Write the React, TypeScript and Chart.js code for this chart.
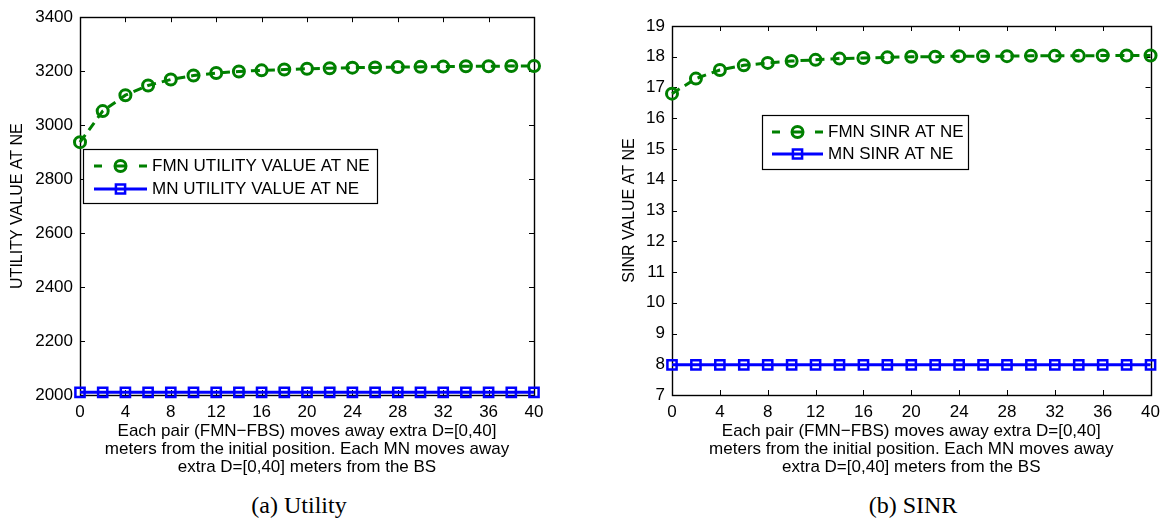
import React, { useEffect, useRef } from "react";
import { Chart, registerables } from "chart.js";

Chart.register(...registerables);

// ---------- DATA ----------
const distances = [0, 2, 4, 6, 8, 10, 12, 14, 16, 18, 20, 22, 24, 26, 28, 30, 32, 34, 36, 38, 40];

const fmnUtility = [2937, 3052, 3111, 3147, 3169, 3184, 3193, 3199, 3203, 3206, 3209, 3211, 3213, 3214, 3215, 3216, 3217, 3218, 3218, 3219, 3219];
const mnUtility = [2010, 2010, 2010, 2010, 2010, 2010, 2010, 2010, 2010, 2010, 2010, 2010, 2010, 2010, 2010, 2010, 2010, 2010, 2010, 2010, 2010];

const fmnSinr = [16.8, 17.29, 17.57, 17.72, 17.8, 17.86, 17.9, 17.94, 17.96, 17.98, 18.0, 18.0, 18.02, 18.02, 18.02, 18.03, 18.03, 18.03, 18.04, 18.04, 18.04];
const mnSinr = [7.98, 7.98, 7.98, 7.98, 7.98, 7.98, 7.98, 7.98, 7.98, 7.98, 7.98, 7.98, 7.98, 7.98, 7.98, 7.98, 7.98, 7.98, 7.98, 7.98, 7.98];

const utilityLabels = ["FMN UTILITY VALUE AT NE", "MN UTILITY VALUE AT NE"];
const sinrLabels = ["FMN SINR AT NE", "MN SINR AT NE"];

const xTitleLines = [
  "Each pair (FMN\u2212FBS) moves away extra D=[0,40]",
  "meters from the initial position. Each MN moves away",
  "extra D=[0,40] meters from the BS",
];
const utilityYTitle = "UTILITY VALUE AT NE";
const sinrYTitle = "SINR VALUE AT NE";
const utilityCaption = "(a) Utility";
const sinrCaption = "(b) SINR";

// ---------- STYLE ----------
const SANS = "'Liberation Sans', Arial, Helvetica, sans-serif";
const SERIF = "'Liberation Serif', 'Times New Roman', serif";
const GREEN = "#008000";
const BLUE = "#0000ff";

const framePlugin = {
  id: "matlabFrame",
  beforeDatasetsDraw(chart: any) {
    const { ctx, chartArea: a, scales } = chart;
    const len = 5;
    ctx.save();
    ctx.strokeStyle = "#000";
    ctx.lineWidth = 1;
    ctx.beginPath();
    scales.x.ticks.forEach((t: any) => {
      const px = Math.round(scales.x.getPixelForValue(t.value)) + 0.5;
      ctx.moveTo(px, a.bottom);
      ctx.lineTo(px, a.bottom - len);
      ctx.moveTo(px, a.top);
      ctx.lineTo(px, a.top + len);
    });
    scales.y.ticks.forEach((t: any) => {
      const py = Math.round(scales.y.getPixelForValue(t.value)) + 0.5;
      ctx.moveTo(a.left, py);
      ctx.lineTo(a.left + len, py);
      ctx.moveTo(a.right, py);
      ctx.lineTo(a.right - len, py);
    });
    ctx.stroke();
    ctx.lineWidth = 1.4;
    ctx.strokeRect(Math.round(a.left) + 0.5, Math.round(a.top) + 0.5, Math.round(a.right - a.left), Math.round(a.bottom - a.top));
    ctx.restore();
  },
};

const legendPlugin = {
  id: "boxLegend",
  afterDatasetsDraw(chart: any, _args: any, opts: any) {
    if (!opts || !opts.box) return;
    const { ctx } = chart;
    const b = opts.box;
    ctx.save();
    ctx.fillStyle = "#fff";
    ctx.fillRect(b.x, b.y, b.w, b.h);
    ctx.strokeStyle = "#000";
    ctx.lineWidth = 1.2;
    ctx.strokeRect(b.x + 0.5, b.y + 0.5, b.w, b.h);
    chart.data.datasets.forEach((ds: any, i: number) => {
      const y = opts.rows[i];
      const x0 = opts.sampleX0;
      const x1 = opts.sampleX1;
      const cx = (x0 + x1) / 2;
      ctx.strokeStyle = ds.borderColor;
      ctx.lineWidth = ds.borderWidth;
      ctx.setLineDash([]);
      ctx.beginPath();
      if (ds.borderDash && ds.borderDash.length) {
        ctx.moveTo(x0, y);
        ctx.lineTo(x0 + 8, y);
        ctx.moveTo(cx - 5, y);
        ctx.lineTo(cx + 5, y);
        ctx.moveTo(x1 - 8, y);
        ctx.lineTo(x1, y);
      } else {
        ctx.moveTo(x0, y);
        ctx.lineTo(x1, y);
      }
      ctx.stroke();
      ctx.lineWidth = ds.pointBorderWidth;
      ctx.strokeStyle = ds.pointBorderColor;
      ctx.beginPath();
      if (ds.pointStyle === "rect") {
        const s = Math.SQRT1_2 * ds.pointRadius;
        ctx.rect(cx - s, y - s, 2 * s, 2 * s);
      } else {
        ctx.arc(cx, y, ds.pointRadius, 0, Math.PI * 2);
      }
      ctx.stroke();
      ctx.fillStyle = "#000";
      ctx.font = `17px ${SANS}`;
      ctx.textBaseline = "middle";
      ctx.textAlign = "left";
      ctx.fillText(ds.label, opts.textX, y + 0.5);
    });
    ctx.restore();
  },
};

function toPoints(values: number[]) {
  return distances.map((d, i) => ({ x: d, y: values[i] }));
}

function makeConfig(p: any) {
  return {
    type: "line",
    data: {
      datasets: [
        {
          label: p.labels[0],
          data: toPoints(p.top),
          borderColor: GREEN,
          borderWidth: 3,
          borderDash: [9, 6],
          pointStyle: "circle",
          pointRadius: 5.5,
          pointBorderWidth: 3,
          pointBorderColor: GREEN,
          pointBackgroundColor: "rgba(0,0,0,0)",
          tension: 0,
          clip: false,
        },
        {
          label: p.labels[1],
          data: toPoints(p.bottom),
          borderColor: BLUE,
          borderWidth: 3,
          pointStyle: "rect",
          pointRadius: 6.5,
          pointBorderWidth: 2.5,
          pointBorderColor: BLUE,
          pointBackgroundColor: "rgba(0,0,0,0)",
          tension: 0,
          clip: false,
        },
      ],
    },
    options: {
      responsive: false,
      animation: false,
      devicePixelRatio: 1,
      layout: { padding: { top: p.padTop, right: p.padRight, left: 0, bottom: 0 } },
      plugins: {
        legend: { display: false },
        tooltip: { enabled: false },
        boxLegend: p.legend,
      },
      scales: {
        x: {
          type: "linear",
          min: 0,
          max: 40,
          grid: { display: false, drawTicks: false },
          border: { display: false },
          ticks: {
            stepSize: 4,
            padding: 7,
            color: "#000",
            font: { family: SANS, size: 17 },
            maxRotation: 0,
            callback: (v: any) => String(v),
          },
          title: {
            display: true,
            text: xTitleLines,
            color: "#000",
            font: { family: SANS, size: 17, lineHeight: 1.04 },
            padding: { top: 0, bottom: 14 },
          },
          afterFit: (s: any) => {
            s.height = 95;
          },
        },
        y: {
          type: "linear",
          min: p.yMin,
          max: p.yMax,
          grid: { display: false, drawTicks: false },
          border: { display: false },
          ticks: {
            stepSize: p.yStep,
            padding: 7,
            color: "#000",
            font: { family: SANS, size: 17 },
            callback: (v: any) => String(v),
          },
          title: {
            display: true,
            text: p.yTitle,
            color: "#000",
            font: { family: SANS, size: 16, lineHeight: 1.2 },
            padding: { top: p.yTitlePad, bottom: 0 },
          },
          afterFit: (s: any) => {
            s.width = p.yWidth;
          },
        },
      },
    },
    plugins: [framePlugin, legendPlugin],
  };
}

function Panel(props: any) {
  const ref = useRef<HTMLCanvasElement | null>(null);
  useEffect(() => {
    if (!ref.current) return;
    const chart = new Chart(ref.current, makeConfig(props.cfg) as any);
    return () => chart.destroy();
  }, []);
  return (
    <canvas
      ref={ref}
      width={props.w}
      height={props.h}
      style={{ position: "absolute", left: props.left, top: 0, width: props.w, height: props.h, display: "block" }}
    />
  );
}

const utilityCfg = {
  labels: utilityLabels,
  top: fmnUtility,
  bottom: mnUtility,
  yMin: 2000,
  yMax: 3400,
  yStep: 200,
  yTitle: utilityYTitle,
  yTitlePad: 8,
  yWidth: 80,
  padTop: 14,
  padRight: 46,
  legend: { box: { x: 83, y: 149, w: 294, h: 54 }, rows: [166, 189], sampleX0: 94, sampleX1: 147, textX: 152 },
};

const sinrCfg = {
  labels: sinrLabels,
  top: fmnSinr,
  bottom: mnSinr,
  yMin: 7,
  yMax: 19,
  yStep: 1,
  yTitle: sinrYTitle,
  yTitlePad: 30,
  yWidth: 82,
  padTop: 26,
  padRight: 9,
  legend: { box: { x: 172, y: 115, w: 206, h: 54 }, rows: [132, 154], sampleX0: 182, sampleX1: 233, textX: 238 },
};

export default function App() {
  return (
    <div style={{ position: "fixed", left: 0, top: 0, width: 1167, height: 518, background: "#fff", overflow: "hidden" }}>
      <Panel cfg={utilityCfg} left={0} w={580} h={490} />
      <Panel cfg={sinrCfg} left={590} w={577} h={490} />
      <div style={{ position: "absolute", left: 149, width: 300, top: 491, textAlign: "center", fontFamily: SERIF, fontSize: 24, lineHeight: "28px", color: "#000" }}>
        {utilityCaption}
      </div>
      <div style={{ position: "absolute", left: 763, width: 300, top: 491, textAlign: "center", fontFamily: SERIF, fontSize: 24, lineHeight: "28px", color: "#000" }}>
        {sinrCaption}
      </div>
    </div>
  );
}
